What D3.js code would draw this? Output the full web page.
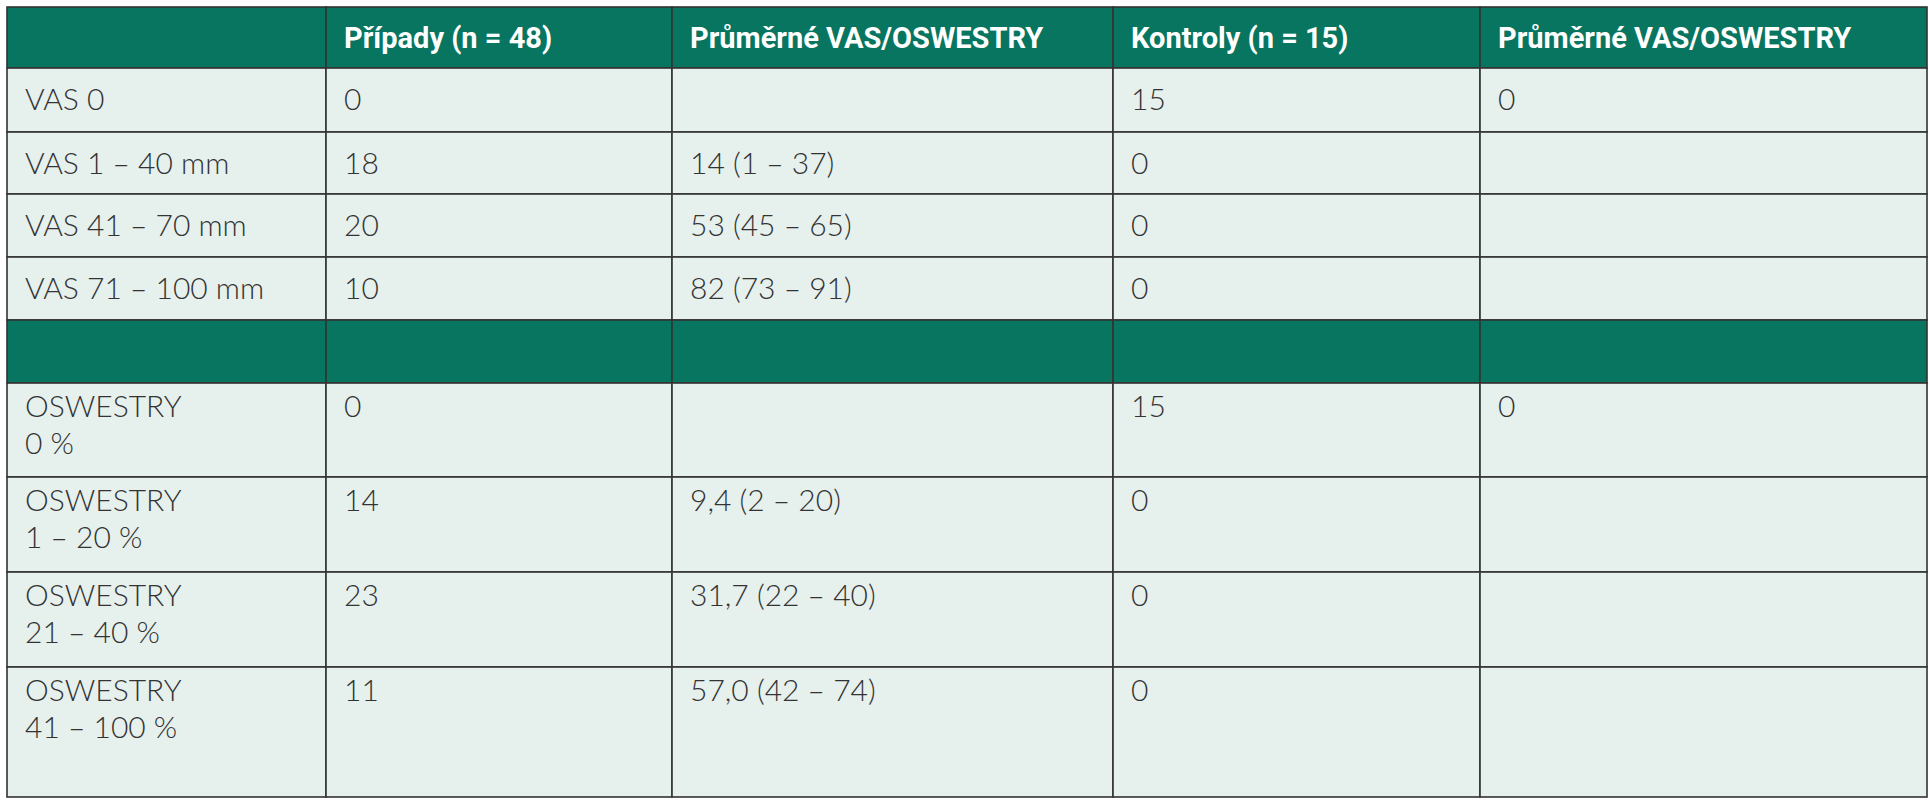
<!DOCTYPE html>
<html><head><meta charset="utf-8">
<script src="https://cdn.jsdelivr.net/npm/d3@7"></script>
<style>body{margin:0;background:#fff}</style>
</head><body><div id="chart"></div>
<script>
const headers = ["", "Případy (n = 48)", "Průměrné VAS/OSWESTRY", "Kontroly (n = 15)", "Průměrné VAS/OSWESTRY"];
const rowLabels = [["VAS 0"], ["VAS 1 – 40 mm"], ["VAS 41 – 70 mm"], ["VAS 71 – 100 mm"], null,
  ["OSWESTRY", "0 %"], ["OSWESTRY", "1 – 20 %"], ["OSWESTRY", "21 – 40 %"], ["OSWESTRY", "41 – 100 %"]];
const cases = ["0", "18", "20", "10", null, "0", "14", "23", "11"];
const casesMean = ["", "14 (1 – 37)", "53 (45 – 65)", "82 (73 – 91)", null, "", "9,4 (2 – 20)", "31,7 (22 – 40)", "57,0 (42 – 74)"];
const controls = ["15", "0", "0", "0", null, "15", "0", "0", "0"];
const controlsMean = ["0", "", "", "", null, "0", "", "", ""];

const colWidths = [319, 346, 441, 367, 447];
const rowHeights = [61, 64, 62, 63, 63, 63, 94, 95, 95, 130];
const W = 1929, H = 800, x0 = 7, y0 = 7;
const green = "#07755f", light = "#e6f0ed", line = "#333";

const colEdges = d3.cumsum([0, ...colWidths]);
const rowEdges = d3.cumsum([0, ...rowHeights]);
const x = d3.scaleLinear().domain([0, colEdges[colEdges.length - 1]]).range([x0, x0 + colEdges[colEdges.length - 1]]);
const y = d3.scaleLinear().domain([0, rowEdges[rowEdges.length - 1]]).range([y0, y0 + rowEdges[rowEdges.length - 1]]);

const svg = d3.select("#chart").append("svg").attr("width", W).attr("height", H);

// rows: header + data
const rows = [{ header: true, cells: headers.map(h => [h]) }];
rowLabels.forEach((lab, i) => {
  if (lab === null) rows.push({ header: true, cells: headers.map(() => [""]) });
  else rows.push({ header: false, multi: lab.length > 1, cells: [lab, [cases[i]], [casesMean[i]], [controls[i]], [controlsMean[i]]] });
});

rows.forEach((r, ri) => {
  r.cells.forEach((c, ci) => {
    svg.append("rect")
      .attr("x", x(colEdges[ci])).attr("y", y(rowEdges[ri]))
      .attr("width", x(colEdges[ci + 1]) - x(colEdges[ci]))
      .attr("height", y(rowEdges[ri + 1]) - y(rowEdges[ri]))
      .attr("fill", r.header ? green : light)
      .attr("stroke", line).attr("stroke-width", 1.6);
    c.forEach((t, li) => {
      svg.append("text")
        .attr("x", x(colEdges[ci]) + 18)
        .attr("y", r.header ? y(rowEdges[ri]) + 41 : y(rowEdges[ri]) + (r.multi ? 34 : 42) + li * 37)
        .attr("font-family", r.header ? "Roboto" : "Lato")
        .attr("font-weight", r.header ? 700 : 300)
        .attr("font-size", r.header ? 29 : 30)
        .attr("fill", r.header ? "#fff" : "#333")
        .text(t);
    });
  });
});
</script></body></html>
